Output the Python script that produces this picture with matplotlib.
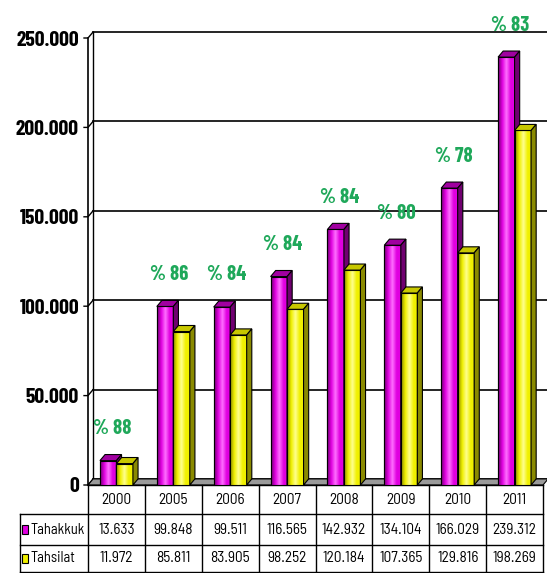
import numpy as np
import matplotlib
matplotlib.use("Agg")
import matplotlib.pyplot as plt
from matplotlib.patches import Polygon, Rectangle

# data
years = ["2000", "2005", "2006", "2007", "2008", "2009", "2010", "2011"]
tahakkuk = [13633, 99848, 99511, 116565, 142932, 134104, 166029, 239312]
tahsilat = [11972, 85811, 83905, 98252, 120184, 107365, 129816, 198269]
percent = [88, 86, 84, 84, 84, 80, 78, 83]
yticks = [0, 50000, 100000, 150000, 200000, 250000]
ytick_labels = ["0", "50.000", "100.000", "150.000", "200.000", "250.000"]
row_names = ["Tahakkuk", "Tahsilat"]

BOLD_NARROW = ["Barlow Condensed", "Liberation Sans"]
TABLE_FONT = ["Barlow Semi Condensed", "Liberation Sans"]
GREEN = "#1fa85a"

# colours: (front, light highlight, top, side)
series_style = [
    ("#e000e0", "#ff70ff", "#a000a0", "#700070"),
    ("#f0f000", "#ffff90", "#c8c800", "#8a8a00"),
]

DX = 0.09      # depth of the 3d effect in x units
DY = 3400      # depth in y units
W = 0.29       # bar width

fig = plt.figure(figsize=(5.47, 5.73), dpi=100)
ax = fig.add_axes([88 / 547, (573 - 485) / 573, 455 / 547, 447 / 573])
ax.set_xlim(-0.5, 7.5)
ax.set_ylim(0, 250000)

x = np.arange(len(years))

# back wall gridlines and left wall
for v in yticks:
    ax.plot([-0.5 + DX, 7.5 + DX], [v + DY, v + DY], color="black", lw=1.2,
            clip_on=False, zorder=1)
    ax.plot([-0.5 - 0.07, -0.5, -0.5 + DX], [v, v, v + DY], color="black",
            lw=1.0, clip_on=False, zorder=1)
ax.plot([-0.5 + DX, -0.5 + DX], [DY, 250000 + DY], color="black", lw=1.0,
        clip_on=False, zorder=1)
ax.plot([-0.5, -0.5], [0, 250000], color="black", lw=1.2, clip_on=False, zorder=1)

# floor
ax.add_patch(Polygon([(-0.5, 0), (7.5, 0), (7.5 + DX, DY), (-0.5 + DX, DY)],
                     closed=True, facecolor="#9a9a9a", edgecolor="black",
                     lw=0.8, clip_on=False, zorder=2))

# 3d bars
for s, (vals, offs) in enumerate(zip([tahakkuk, tahsilat], [-0.145, 0.145])):
    front, light, topc, sidec = series_style[s]
    bars = ax.bar(x + offs, vals, width=W, color=front, edgecolor="black",
                  lw=0.8, zorder=3 + s)
    cmap = matplotlib.colors.LinearSegmentedColormap.from_list(
        "g%d" % s, [sidec, front, light, front, front])
    grad = np.linspace(0, 1, 64).reshape(1, -1)
    for b, h in zip(bars, vals):
        x0 = b.get_x()
        x1 = x0 + b.get_width()
        im = ax.imshow(grad, cmap=cmap, extent=[x0, x1, 0, h], aspect="auto",
                       zorder=3 + s, interpolation="bilinear")
        im.set_clip_path(b)
        ax.add_patch(Rectangle((x0, 0), x1 - x0, h, fill=False,
                               edgecolor="black", lw=0.8, zorder=3.05 + s))
        ax.add_patch(Polygon([(x0, h), (x1, h), (x1 + DX, h + DY), (x0 + DX, h + DY)],
                             closed=True, facecolor=topc, edgecolor="black",
                             lw=0.8, zorder=3.1 + s, clip_on=False))
        ax.add_patch(Polygon([(x1, 0), (x1 + DX, DY), (x1 + DX, h + DY), (x1, h)],
                             closed=True, facecolor=sidec, edgecolor="black",
                             lw=0.8, zorder=3.1 + s, clip_on=False))

ax.set_xlim(-0.5, 7.5)
ax.set_ylim(0, 250000)

# percentage labels
for i, p in enumerate(percent):
    ax.annotate("% " + str(p), xy=(x[i] - 0.07, tahakkuk[i] + DY),
                xytext=(0, 26), textcoords="offset pixels", ha="center",
                va="center", color=GREEN, fontsize=15, fontweight="bold",
                family=BOLD_NARROW, annotation_clip=False, zorder=6)

# axis styling
for sp in ax.spines.values():
    sp.set_visible(False)
ax.set_xticks([])
ax.set_yticks(yticks)
ax.set_yticklabels(ytick_labels, family=BOLD_NARROW, fontsize=15.5, fontweight="bold")
ax.tick_params(axis="y", length=0, pad=6.5)
ax.set_facecolor("none")

# data table under the plot
rows_y = [0, -29 / 447, -60 / 447, -87 / 447]
left_x = (20 - 88) / 455
tkw = dict(transform=ax.transAxes, clip_on=False, color="black", lw=1.0)
ax.plot([0, 1], [rows_y[0], rows_y[0]], **tkw)
for r in range(1, 4):
    ax.plot([left_x, 1], [rows_y[r], rows_y[r]], **tkw)
ax.plot([left_x, left_x], [rows_y[1], rows_y[3]], **tkw)
for c in range(9):
    ax.plot([c / 8, c / 8], [rows_y[0], rows_y[3]], **tkw)

for c, yr in enumerate(years):
    xc = (c + 0.5) / 8
    ax.text(xc, (rows_y[0] + rows_y[1]) / 2, yr, transform=ax.transAxes,
            ha="center", va="center", fontsize=11, family=TABLE_FONT)
    for r, vals in enumerate([tahakkuk, tahsilat]):
        txt = "{:,}".format(vals[c]).replace(",", ".")
        ax.text(xc, (rows_y[r + 1] + rows_y[r + 2]) / 2, txt,
                transform=ax.transAxes, ha="center", va="center",
                fontsize=11, family=TABLE_FONT)

for r, name in enumerate(row_names):
    ym = (rows_y[r + 1] + rows_y[r + 2]) / 2
    ax.add_patch(Rectangle((left_x + 0.005, ym - 0.009), 0.013, 0.018,
                           transform=ax.transAxes, clip_on=False,
                           facecolor=series_style[r][0], edgecolor="black", lw=0.8))
    ax.text(left_x + 0.023, ym, name, transform=ax.transAxes, ha="left",
            va="center", fontsize=10.5, family=TABLE_FONT)

fig.savefig("out.png", dpi=100)
